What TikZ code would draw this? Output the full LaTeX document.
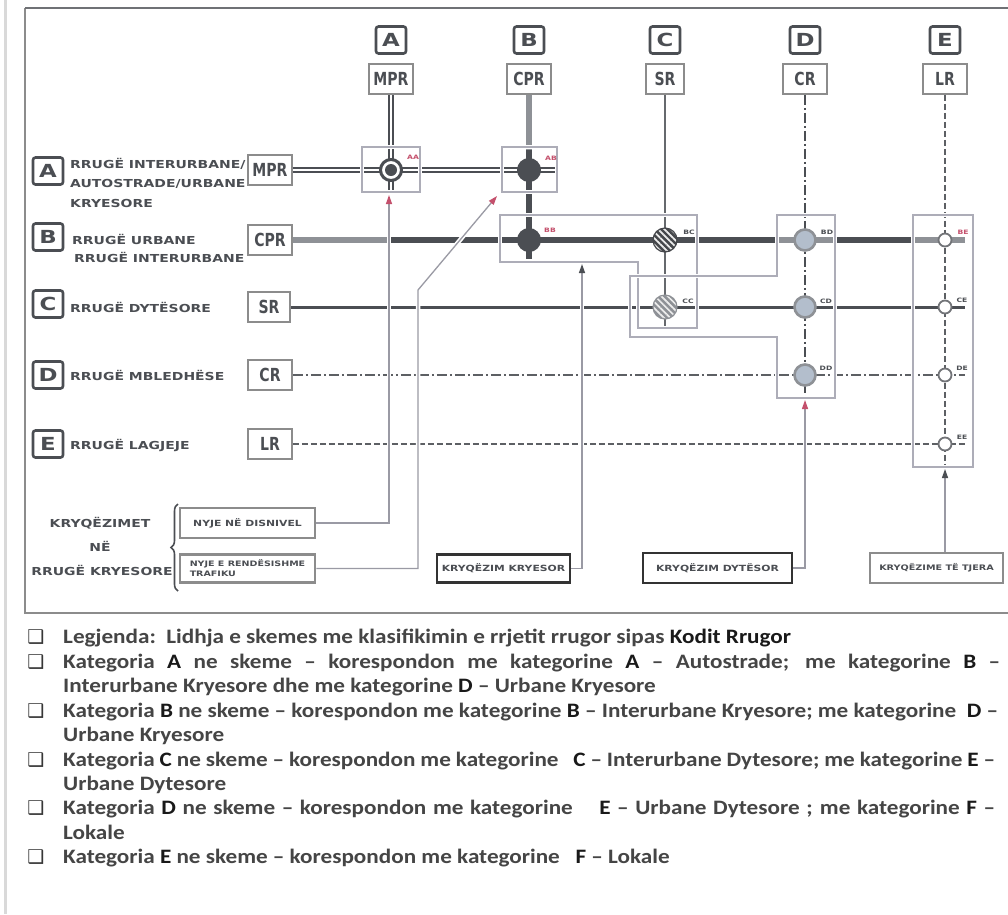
\documentclass[tikz,border=0pt]{standalone}
\usepackage{fontspec}
\usetikzlibrary{arrows.meta,patterns.meta,decorations.pathreplacing}
\setmainfont{Carlito}[FakeStretch=1.13]
\newfontfamily\wide{DejaVu Sans Bold}[FakeStretch=1.27]
\newfontfamily\cond{DejaVu Sans Bold}[FakeStretch=0.78]
\newfontfamily\dejavu{DejaVu Sans Bold}
\definecolor{roaddark}{HTML}{4B4E53}
\definecolor{roadlight}{HTML}{8E9196}
\definecolor{boxgray}{HTML}{8C8C8C}
\definecolor{grp}{HTML}{ADADB8}
\definecolor{redmark}{HTML}{C4506C}
\definecolor{blueish}{HTML}{B3BECC}
\definecolor{txt}{HTML}{454545}
\definecolor{conn}{HTML}{9A9AA4}
\definecolor{hatchdark}{HTML}{45474B}
\definecolor{hatchlight}{HTML}{8E9196}
\newcommand\emb[1]{{\color{black!90}#1}}
\tikzset{
  letterbox/.style={draw=roaddark,line width=2.6pt,rounded corners=2.5pt,fill=white,
     minimum width=30pt,minimum height=27pt,inner sep=0pt,text=roaddark,
     font=\wide\fontsize{18}{18}\selectfont},
  codebox/.style={draw=boxgray,line width=1.8pt,fill=white,minimum width=44pt,
     minimum height=30pt,inner sep=0pt,text=roaddark,font=\cond\fontsize{18}{18}\selectfont},
  rowlab/.style={anchor=west,inner sep=0pt,text=roaddark,font=\wide\fontsize{11}{11}\selectfont},
  sidelab/.style={inner sep=0pt,text=roaddark,font=\wide\fontsize{11}{11}\selectfont},
  haloline/.style={draw=white,line width=4.5pt},
  grpbox/.style={draw=grp,line width=1.3pt,preaction={draw=white,line width=4.5pt}},
  connector/.style={draw=conn,line width=1.3pt},
  tipred/.style={-{Triangle[width=6pt,length=9pt,color=redmark]}},
  tipgray/.style={-{Triangle[width=6pt,length=9pt,color=roaddark]}},
  catbox/.style={line width=2.6pt,fill=white,inner sep=3pt,text=roaddark,
     font=\wide\fontsize{8.5}{10}\selectfont},
  darkjn/.style={circle,fill=roaddark,minimum size=24pt,inner sep=0pt},
  hatchjn/.style={circle,minimum size=24pt,inner sep=0pt,line width=1.2pt},
  bluejn/.style={circle,fill=blueish,draw=roadlight,line width=2.6pt,minimum size=21pt,inner sep=0pt},
  whitejn/.style={circle,fill=white,draw=roadlight!80!black,line width=1.8pt,minimum size=13pt,inner sep=0pt},
  jlab/.style={inner sep=0pt,font=\wide\fontsize{6}{6}\selectfont,text=roaddark},
  legtxt/.style={anchor=base west,inner sep=0pt,text=txt,font=\bfseries\fontsize{20.5}{20.5}\selectfont},
  chk/.style={inner sep=0pt,text=txt!80!black,font=\dejavu\fontsize{19}{19}\selectfont},
}
\begin{document}
\begin{tikzpicture}[x=1pt,y=-1pt]
\useasboundingbox (0,0) rectangle (1008,914);
\fill[white] (0,0) rectangle (1008,914);
% page edge and frame
\draw[gray!30,line width=3pt] (5,0) -- (5,914);
\draw[boxgray,line width=1.8pt] (1020,613) -- (25,613) -- (25,8);
\draw[roaddark!80,line width=2.6pt] (25,8) -- (1020,8);

% header boxes
\node[letterbox] (hA) at (391,40) {A};
\node[letterbox] (hB) at (529,40) {B};
\node[letterbox] (hC) at (665,40) {C};
\node[letterbox] (hD) at (805,40) {D};
\node[letterbox] (hE) at (945,40) {E};
\node[codebox] (hMPR) at (391,79) {MPR};
\node[codebox] (hCPR) at (529,79) {CPR};
\node[codebox,minimum width=38pt] (hSR) at (665,79) {SR};
\node[codebox] (hCR) at (805,79) {CR};
\node[codebox] (hLR) at (945,79) {LR};

% left boxes
\node[letterbox] (lA) at (48,171) {A};
\node[letterbox] (lB) at (48,237) {B};
\node[letterbox] (lC) at (48,304) {C};
\node[letterbox] (lD) at (48,375) {D};
\node[letterbox] (lE) at (48,444) {E};
\node[rowlab] (tA1) at (70,164) {RRUGË INTERURBANE/};
\node[rowlab] (tA2) at (70,184) {AUTOSTRADE/URBANE};
\node[rowlab] (tA3) at (70,203) {KRYESORE};
\node[rowlab] (tB1) at (72,239) {RRUGË URBANE};
\node[rowlab] (tB2) at (74,257) {RRUGË INTERURBANE};
\node[rowlab] (tC) at (70,307) {RRUGË DYTËSORE};
\node[rowlab] (tD) at (70,375) {RRUGË MBLEDHËSE};
\node[rowlab] (tE) at (70,445) {RRUGË LAGJEJE};
\node[codebox] (MPR) at (270,170) {MPR};
\node[codebox] (CPR) at (270,240) {CPR};
\node[codebox,minimum width=42pt] (SR) at (269,307) {SR};
\node[codebox] (CR) at (270,375) {CR};
\node[codebox] (LR) at (270,444) {LR};

% junction coordinates
\coordinate (pAA) at (391,170); \coordinate (pAB) at (529,170);
\coordinate (pBB) at (529,240); \coordinate (pBC) at (665,240);
\coordinate (pCC) at (665,307); \coordinate (pBD) at (805,240);
\coordinate (pCD) at (805,307); \coordinate (pDD) at (805,375);
\coordinate (pBE) at (945,240); \coordinate (pCE) at (945,307);
\coordinate (pDE) at (945,375); \coordinate (pEE) at (945,444);

% columns
\draw[roaddark,line width=2pt,double=white,double distance=2pt] (hMPR.south) -- (391,192);
\draw[roadlight,line width=6pt] (hCPR.south) -- (529,150);
\draw[roaddark,line width=6pt] (529,150) -- (529,259);
\draw[roaddark!85,line width=2.6pt] (hSR.south) -- (665,328);
\draw[roaddark,line width=2.6pt,dash pattern=on 10pt off 3pt on 2pt off 3pt] (hCR.south) -- (805,398);
\draw[roaddark!90,line width=1.7pt,dash pattern=on 6pt off 3pt] (hLR.south) -- (945,467);
% rows
\draw[roaddark,line width=2.2pt,double=white,double distance=2pt] (MPR.east) -- (557,170);
\draw[roadlight,line width=6pt] (CPR.east) -- (389,240);
\draw[roaddark,line width=6pt] (389,240) -- (777,240);
\draw[roadlight,line width=6pt] (777,240) -- (835,240);
\draw[roaddark,line width=6pt] (835,240) -- (913,240);
\draw[roadlight,line width=6pt] (913,240) -- (965,240);
\draw[roaddark,line width=3pt] (SR.east) -- (965,307);
\draw[roaddark!90,line width=2.2pt,dash pattern=on 10pt off 3pt on 2pt off 3pt] (CR.east) -- (965,375);
\draw[roaddark!90,line width=1.7pt,dash pattern=on 6pt off 3pt] (LR.east) -- (965,444);

% group boxes
\draw[grpbox] (362,147) rectangle (420,192);
\draw[grpbox] (502,147) rectangle (557,192);
\draw[grpbox] (500,215) -- (697,215) -- (697,328) -- (638,328) -- (638,262) -- (500,262) -- cycle;
\draw[grpbox] (777,215) -- (835,215) -- (835,398) -- (777,398) -- (777,337) -- (630,337) -- (630,276) -- (777,276) -- cycle;
\draw[grpbox] (913,215) rectangle (973,467);

% bottom category nodes
\node[sidelab] (s1) at (100,523) {KRYQËZIMET};
\node[sidelab] (s2) at (100,546) {NË};
\node[sidelab] (s3) at (102,570) {RRUGË KRYESORE};
\draw[roaddark,line width=1.6pt,decorate,decoration={brace,amplitude=7pt,mirror}] (178,504) -- (178,591);
\node[catbox,draw=boxgray,minimum width=135pt,minimum height=30pt] (nd) at (247.5,523) {NYJE NË DISNIVEL};
\node[catbox,draw=boxgray,minimum width=135pt,minimum height=28pt,align=left,font=\wide\fontsize{7.5}{10}\selectfont] (nr) at (247.5,568.5) {NYJE E RENDËSISHME\\TRAFIKU};
\node[catbox,draw=black!80,minimum width=133pt,minimum height=28pt] (kk) at (503.5,568.5) {KRYQËZIM KRYESOR};
\node[catbox,draw=black!80,minimum width=149pt,minimum height=30pt] (kd) at (717.5,568) {KRYQËZIM DYTËSOR};
\node[catbox,draw=boxgray,minimum width=133pt,minimum height=30pt,font=\wide\fontsize{7.6}{10}\selectfont] (kt) at (936.5,568) {KRYQËZIME TË TJERA};

% connectors
\coordinate (aAA) at (389,195);
\coordinate (bend2) at (418,290);
\coordinate (aAB) at (497,196);
\coordinate (aBB) at (582,264);
\coordinate (aDD) at (805,400);
\coordinate (aEE) at (945,469);
\draw[haloline] (nd.east) -| (aAA);
\draw[haloline] (nr.east) -| (bend2) -- (aAB);
\draw[haloline] (kk.east) -| (aBB);
\draw[haloline] (kd.east) -| (aDD);
\draw[haloline] (aEE |- kt.north) -- (aEE);
\draw[connector,tipred] (nd.east) -| (aAA);
\draw[connector,tipred] (nr.east) -| (bend2) -- (aAB);
\draw[connector,tipgray] (kk.east) -| (aBB);
\draw[connector,tipred] (kd.east) -| (aDD);
\draw[connector,tipgray] (aEE |- kt.north) -- (aEE);

% junctions
\node[circle,draw=roaddark,line width=3pt,fill=white,minimum size=21pt,inner sep=0pt] (AA) at (pAA) {};
\fill[roaddark] (AA.center) circle (6);
\node[darkjn] (AB) at (pAB) {};
\node[darkjn] (BB) at (pBB) {};
\node[hatchjn,draw=hatchdark,preaction={fill=hatchdark},pattern={Lines[angle=-45,distance=4.5pt,line width=1.7pt]},pattern color=white!85!gray] (BC) at (pBC) {};
\node[hatchjn,draw=hatchlight,preaction={fill=hatchlight},pattern={Lines[angle=-45,distance=4.5pt,line width=1.7pt]},pattern color=white!85!gray] (CC) at (pCC) {};
\node[bluejn] (BD) at (pBD) {};
\node[bluejn] (CD) at (pCD) {};
\node[bluejn] (DD) at (pDD) {};
\node[whitejn] (BE) at (pBE) {};
\node[whitejn] (CE) at (pCE) {};
\node[whitejn] (DE) at (pDE) {};
\node[whitejn] (EE) at (pEE) {};
% junction labels
\node[jlab,text=redmark] (tAA) at (413,157) {AA};
\node[jlab,text=redmark] (tAB) at (551,158) {AB};
\node[jlab,text=redmark] (tBB) at (550,230) {BB};
\node[jlab] (tBC) at (689,232) {BC};
\node[jlab] (tCC) at (688,301) {CC};
\node[jlab] (tBD) at (827,232) {BD};
\node[jlab] (tCD) at (826,301) {CD};
\node[jlab] (tDD) at (826,368) {DD};
\node[jlab,text=redmark] (tBE) at (963,232) {BE};
\node[jlab] (tCE) at (962,300) {CE};
\node[jlab] (tDE) at (962,368) {DE};
\node[jlab] (tEE) at (962,437) {EE};

% legend
\node[chk] (c1) at (36,637) {❑};
\node[chk] (c2) at (36,662) {❑};
\node[chk] (c3) at (36,711) {❑};
\node[chk] (c4) at (36,760) {❑};
\node[chk] (c5) at (36,808) {❑};
\node[chk] (c6) at (36,857) {❑};
\node[legtxt] (g1) at (63,643) {Legjenda:\ \ Lidhja e skemes me klasifikimin e rrjetit rrugor sipas \emb{Kodit Rrugor}};
\node[legtxt] (g2) at (63,668) {\makebox[937pt][s]{Kategoria \emb{A} ne skeme – korespondon me kategorine \emb{A} – Autostrade; me kategorine \emb{B} –}};
\node[legtxt] (g3) at (63,692) {Interurbane Kryesore dhe me kategorine \emb{D} – Urbane Kryesore};
\node[legtxt] (g4) at (63,717) {\makebox[935pt][s]{Kategoria \emb{B} ne skeme – korespondon me kategorine \emb{B} – Interurbane Kryesore; me kategorine\ \ \emb{D} –}};
\node[legtxt] (g5) at (63,741) {Urbane Kryesore};
\node[legtxt] (g6) at (63,766) {\makebox[932pt][s]{Kategoria \emb{C} ne skeme – korespondon me kategorine\ \ \ \emb{C} – Interurbane Dytesore; me kategorine \emb{E} –}};
\node[legtxt] (g7) at (63,790) {Urbane Dytesore};
\node[legtxt] (g8) at (63,814) {\makebox[932pt][s]{Kategoria \emb{D} ne skeme – korespondon me kategorine\ \ \ \ \emb{E} – Urbane Dytesore ; me kategorine \emb{F} –}};
\node[legtxt] (g9) at (63,839) {Lokale};
\node[legtxt] (g10) at (63,863) {Kategoria \emb{E} ne skeme – korespondon me kategorine\ \ \ \emb{F} – Lokale};
\end{tikzpicture}
\end{document}
